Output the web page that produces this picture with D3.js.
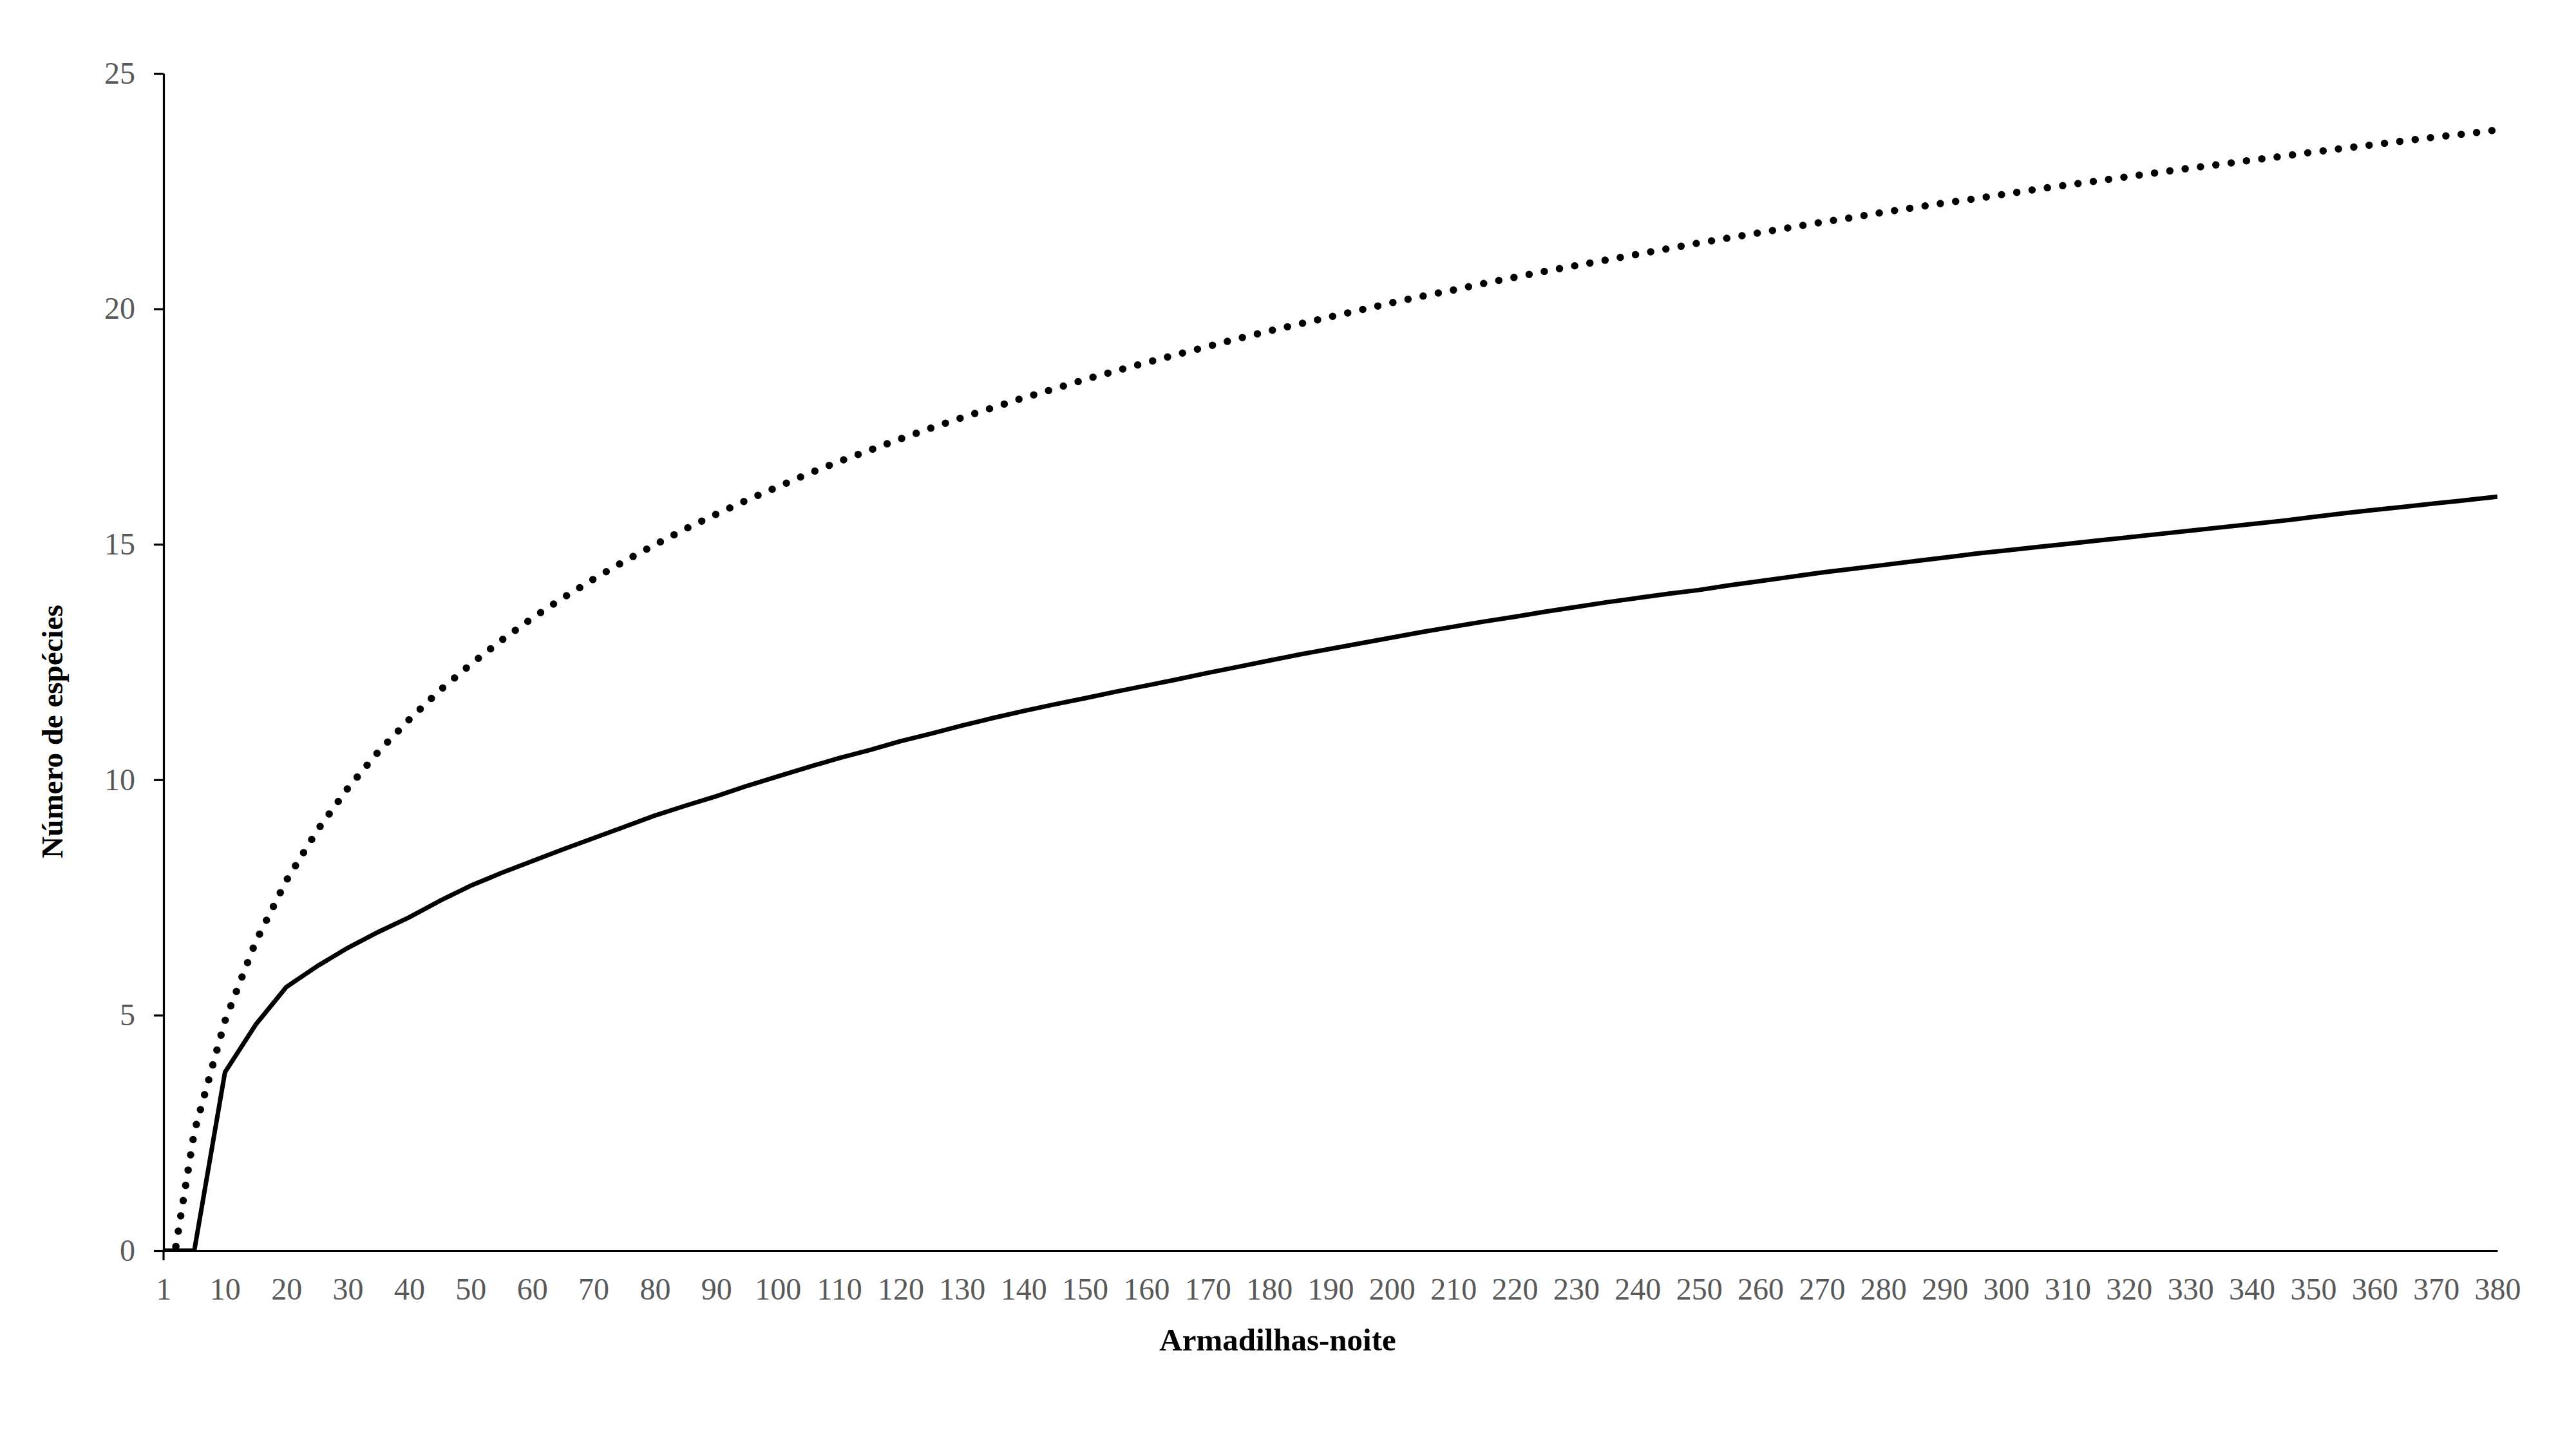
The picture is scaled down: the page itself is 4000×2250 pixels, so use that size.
<!DOCTYPE html>
<html>
<head>
<meta charset="utf-8">
<script src="https://cdn.jsdelivr.net/npm/d3@7"></script>
<style>
  body { margin: 0; background: #ffffff; }
</style>
</head>
<body>
<div id="chart"></div>
<script>
var svg_width = 4000;
var svg_height = 2250;

// armadilhas-noite (categories on the x axis)
var categories = [1, 5, 10, 15, 20, 25, 30, 35, 40, 45, 50, 55, 60, 65, 70, 75, 80, 85, 90, 95,
  100, 105, 110, 115, 120, 125, 130, 135, 140, 145, 150, 155, 160, 165, 170, 175, 180, 185, 190, 195,
  200, 205, 210, 215, 220, 225, 230, 235, 240, 245, 250, 255, 260, 265, 270, 275, 280, 285, 290, 295,
  300, 305, 310, 315, 320, 325, 330, 335, 340, 345, 350, 355, 360, 365, 370, 375, 380];

// observed species (solid line)
var observed = [0, 0, 3.79, 4.80, 5.60, 6.04, 6.43, 6.77, 7.08, 7.43,
  7.75, 8.02, 8.27, 8.52, 8.76, 9.00, 9.24, 9.45, 9.65, 9.87,
  10.07, 10.27, 10.46, 10.63, 10.82, 10.98, 11.15, 11.31, 11.46, 11.60,
  11.73, 11.87, 12.00, 12.13, 12.27, 12.40, 12.53, 12.66, 12.78, 12.90,
  13.02, 13.14, 13.25, 13.36, 13.46, 13.57, 13.67, 13.77, 13.86, 13.95,
  14.03, 14.13, 14.22, 14.31, 14.40, 14.48, 14.56, 14.64, 14.72, 14.80,
  14.87, 14.94, 15.01, 15.08, 15.15, 15.22, 15.29, 15.36, 15.43, 15.50,
  15.58, 15.66, 15.73, 15.80, 15.87, 15.94, 16.01];

// estimated species (dotted line)
var estimated = [-1.53, 2.52, 4.88, 6.56, 7.86, 8.92, 9.82, 10.60, 11.28, 11.90,
  12.45, 12.96, 13.43, 13.86, 14.26, 14.64, 14.99, 15.33, 15.64, 15.94,
  16.22, 16.50, 16.76, 17.00, 17.24, 17.47, 17.69, 17.90, 18.11, 18.30,
  18.50, 18.68, 18.86, 19.03, 19.20, 19.37, 19.53, 19.68, 19.83, 19.98,
  20.13, 20.27, 20.40, 20.54, 20.67, 20.80, 20.92, 21.04, 21.16, 21.28,
  21.40, 21.51, 21.62, 21.73, 21.84, 21.94, 22.05, 22.15, 22.25, 22.34,
  22.44, 22.54, 22.63, 22.72, 22.81, 22.90, 22.99, 23.07, 23.16, 23.24,
  23.33, 23.41, 23.49, 23.57, 23.65, 23.72, 23.80];

var yTicks = [0, 5, 10, 15, 20, 25];
var xTickLabels = categories.filter(function(d, i) { return i % 2 === 0; });

var plotLeft = 254, plotRight = 3878, plotTop = 114, plotBottom = 1942;

var svg = d3.select("#chart")
    .append("svg")
    .attr("width", svg_width)
    .attr("height", svg_height)
    .style("background-color", "#ffffff");

var x = d3.scalePoint()
    .domain(categories)
    .range([plotLeft, plotRight]);

var y = d3.scaleLinear()
    .domain([0, 25])
    .range([plotBottom, plotTop]);

svg.append("clipPath")
    .attr("id", "plot-clip")
    .append("rect")
    .attr("x", plotLeft)
    .attr("y", plotTop)
    .attr("width", plotRight - plotLeft)
    .attr("height", plotBottom - plotTop);

// y axis
var yAxis = svg.append("g")
    .attr("transform", "translate(" + plotLeft + ",0)")
    .call(d3.axisLeft(y).tickValues(yTicks).tickSize(15).tickSizeOuter(0).tickPadding(29));
yAxis.select(".domain").attr("stroke", "#000").attr("stroke-width", 3.2);
yAxis.selectAll(".tick line").attr("stroke", "#000").attr("stroke-width", 3.2);
yAxis.selectAll(".tick text")
    .attr("fill", "#595959")
    .style("font-family", "'Liberation Serif', 'Times New Roman', serif")
    .style("font-size", "48px");

// x axis
var xAxis = svg.append("g")
    .attr("transform", "translate(0," + plotBottom + ")")
    .call(d3.axisBottom(x).tickValues(xTickLabels).tickSize(0).tickSizeOuter(0).tickPadding(42));
xAxis.select(".domain").attr("stroke", "#000").attr("stroke-width", 3.2);
xAxis.selectAll(".tick text")
    .attr("fill", "#595959")
    .style("font-family", "'Liberation Serif', 'Times New Roman', serif")
    .style("font-size", "48px");

// small stub of the y axis below the x axis
svg.append("line")
    .attr("x1", plotLeft).attr("x2", plotLeft)
    .attr("y1", plotBottom).attr("y2", plotBottom + 15)
    .attr("stroke", "#000")
    .attr("stroke-width", 3.2);

var line = d3.line()
    .x(function(d, i) { return x(categories[i]); })
    .y(function(d) { return y(d); });

var plot = svg.append("g").attr("clip-path", "url(#plot-clip)");

plot.append("path")
    .datum(estimated)
    .attr("d", line)
    .attr("fill", "none")
    .attr("stroke", "#000")
    .attr("stroke-width", 11.5)
    .attr("stroke-linecap", "round")
    .attr("stroke-dasharray", "0 24");

plot.append("path")
    .datum(observed)
    .attr("d", line)
    .attr("fill", "none")
    .attr("stroke", "#000")
    .attr("stroke-width", 7)
    .attr("stroke-linejoin", "round");

// axis titles
svg.append("text")
    .text("Armadilhas-noite")
    .attr("x", 1984)
    .attr("y", 2097)
    .attr("text-anchor", "middle")
    .style("font-family", "'Liberation Serif', 'Times New Roman', serif")
    .style("font-weight", "bold")
    .style("font-size", "49px")
    .attr("fill", "#000");

svg.append("text")
    .text("Número de espécies")
    .attr("transform", "translate(97,1136) rotate(-90)")
    .attr("text-anchor", "middle")
    .style("font-family", "'Liberation Serif', 'Times New Roman', serif")
    .style("font-weight", "bold")
    .style("font-size", "47px")
    .attr("fill", "#000");
</script>
</body>
</html>
